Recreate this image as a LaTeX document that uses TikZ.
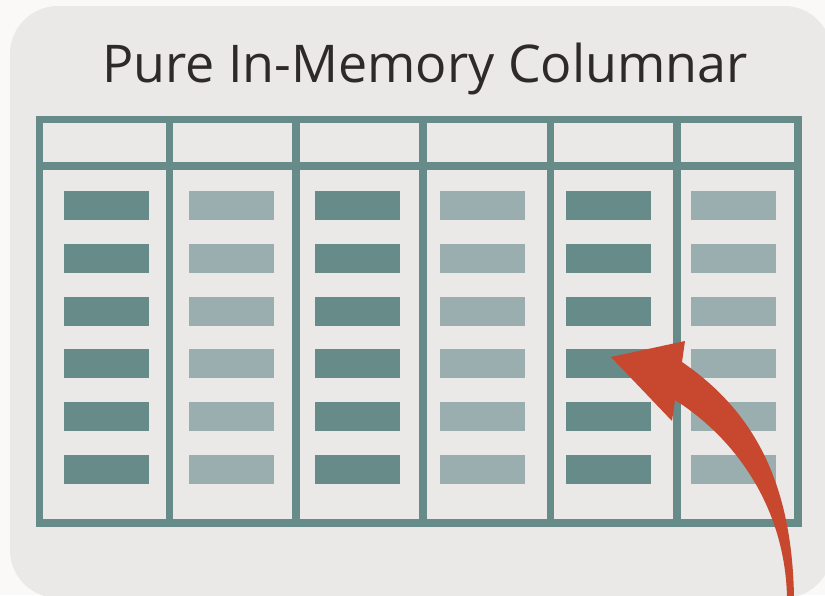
\documentclass[tikz,border=0pt]{standalone}
\usepackage{fontspec}
\setmainfont{Open Sans}
\definecolor{pagebg}{HTML}{FAF9F8}
\definecolor{panel}{HTML}{EAE9E8}
\definecolor{frame}{HTML}{678B89}
\definecolor{barlight}{HTML}{9AADAF}
\definecolor{titletext}{HTML}{2E2A28}
\definecolor{arrowred}{HTML}{C7472F}
\begin{document}
\begin{tikzpicture}[x=1pt,y=-1pt,
  gridline/.style={draw=frame,line width=7.5pt},
  darkbar/.style={fill=frame},
  lightbar/.style={fill=barlight}]
\useasboundingbox (0,0) rectangle (825,595);
\fill[pagebg] (0,0) rectangle (825,595);
% rounded panel
\fill[panel,rounded corners=48pt] (10,6) rectangle (832,598);
% title
\node[text=titletext,font=\fontsize{52}{60}\selectfont,anchor=base] (title) at (425,82) {Pure In-Memory Columnar};
% table frame and header row
\draw[gridline] (39.5,119.5) rectangle (798,523);
\draw[gridline] (39.5,166) -- (798,166);
\foreach \x in {169.5,296,423,550.5,677}{
  \draw[gridline] (\x,119.5) -- (\x,523);
}
% column bars, alternating dark and light
\foreach \c in {0,...,5}{
  \pgfmathsetmacro{\cx}{106.5+125.4*\c}
  \pgfmathtruncatemacro{\odd}{mod(\c,2)}
  \foreach \r in {0,...,5}{
    \pgfmathsetmacro{\ry}{191+52.8*\r}
    \ifnum\odd=0
      \fill[darkbar] (\cx-42.5,\ry) rectangle (\cx+42.5,\ry+29);
    \else
      \fill[lightbar] (\cx-42.5,\ry) rectangle (\cx+42.5,\ry+29);
    \fi
  }
}
% curved pointer arrow
\fill[arrowred] (794,597) .. controls (792,480) and (752,410) .. (682,362)
  -- (685,341) -- (611,357) -- (672,421) -- (675,400)
  .. controls (738,440) and (785,510) .. (787,597) -- cycle;
\end{tikzpicture}
\end{document}
